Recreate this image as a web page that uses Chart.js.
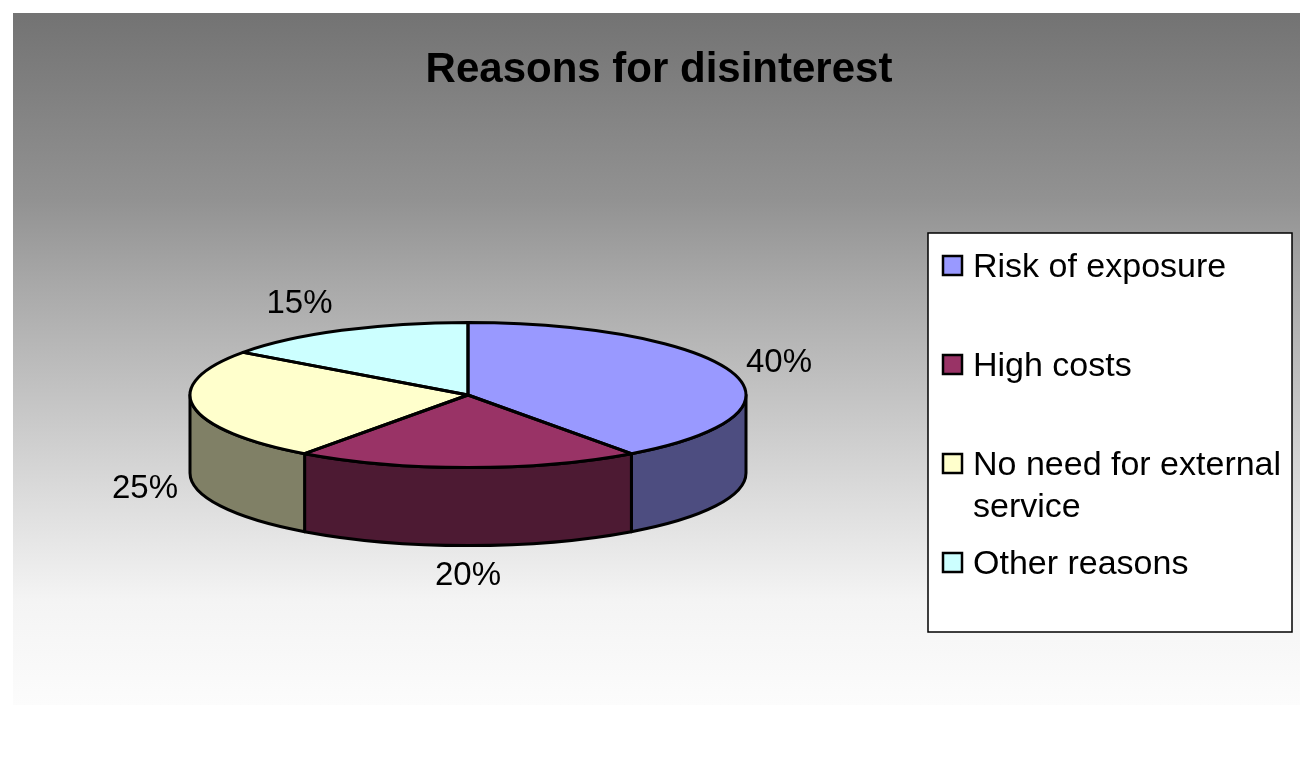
<!DOCTYPE html>
<html>
<head>
<meta charset="utf-8">
<script src="https://cdn.jsdelivr.net/npm/chart.js@4.4.0/dist/chart.umd.min.js"></script>
<style>
  html, body { margin: 0; padding: 0; background: #fff; }
</style>
</head>
<body>
<canvas id="pieChart" width="1315" height="760"></canvas>
<script>
// data
const reasons = ['Risk of exposure', 'High costs', 'No need for external service', 'Other reasons'];
const shares = [40, 20, 25, 15];
const topColors = ['#9999FF', '#993366', '#FFFFCC', '#CCFFFF'];
const sideColors = ['#4D4D80', '#4D1A33', '#808066', '#668080'];
const chartTitle = 'Reasons for disinterest';

// 3d look
const tilt = 0.261;   // vertical squash of the pie top
const depth = 78;     // wall height in px
const edge = 3;

// draws the panel, walls, squashes the top face, then outlines, labels, title, legend
const pie3d = {
    id: 'pie3d',
    beforeDraw(chart) {
        const ctx = chart.ctx;
        ctx.save();
        ctx.fillStyle = '#ffffff';
        ctx.fillRect(0, 0, chart.width, chart.height);
        const g = ctx.createLinearGradient(0, 13, 0, 705);
        g.addColorStop(0, '#737373');
        g.addColorStop(0.27, '#929292');
        g.addColorStop(0.39, '#a8a8a8');
        g.addColorStop(0.70, '#dcdcdc');
        g.addColorStop(0.85, '#f4f4f4');
        g.addColorStop(1, '#fcfcfc');
        ctx.fillStyle = g;
        ctx.fillRect(13, 13, 1287, 692);
        ctx.restore();
    },
    beforeDatasetsDraw(chart) {
        const ctx = chart.ctx;
        const arcs = chart.getDatasetMeta(0).data;
        ctx.save();
        ctx.lineWidth = edge;
        ctx.lineJoin = 'round';
        ctx.strokeStyle = '#000';
        arcs.forEach((arc, i) => {
            const rx = arc.outerRadius, ry = arc.outerRadius * tilt;
            // front half of the ellipse is angle 0..PI (and its 2PI shift)
            [0, 2 * Math.PI, -2 * Math.PI].forEach(shift => {
                const a0 = Math.max(arc.startAngle, shift);
                const a1 = Math.min(arc.endAngle, shift + Math.PI);
                if (a1 <= a0) return;
                ctx.beginPath();
                ctx.ellipse(arc.x, arc.y, rx, ry, 0, a0, a1, false);
                ctx.ellipse(arc.x, arc.y + depth, rx, ry, 0, a1, a0, true);
                ctx.closePath();
                ctx.fillStyle = sideColors[i];
                ctx.fill();
                ctx.stroke();
            });
        });
        ctx.restore();
        // squash the flat pie into an ellipse
        const cy = arcs[0].y;
        ctx.save();
        ctx.translate(0, cy);
        ctx.scale(1, tilt);
        ctx.translate(0, -cy);
    },
    afterDatasetsDraw(chart) {
        const ctx = chart.ctx;
        ctx.restore();
        const arcs = chart.getDatasetMeta(0).data;
        ctx.save();
        ctx.lineWidth = edge;
        ctx.lineJoin = 'round';
        ctx.strokeStyle = '#000';
        arcs.forEach(arc => {
            ctx.beginPath();
            ctx.moveTo(arc.x, arc.y);
            ctx.ellipse(arc.x, arc.y, arc.outerRadius, arc.outerRadius * tilt, 0, arc.startAngle, arc.endAngle, false);
            ctx.closePath();
            ctx.stroke();
        });

        // percentage labels
        ctx.font = '33px Arial, "Liberation Sans", sans-serif';
        ctx.fillStyle = '#000';
        ctx.textAlign = 'center';
        ctx.textBaseline = 'middle';
        const total = shares.reduce((a, b) => a + b, 0);
        arcs.forEach((arc, i) => {
            const mid = (arc.startAngle + arc.endAngle) / 2;
            const c = Math.cos(mid), s = Math.sin(mid);
            const txt = Math.round(shares[i] / total * 100) + '%';
            const halfW = ctx.measureText(txt).width / 2;
            const ax = arc.x + arc.outerRadius * c;
            const ay = arc.y + arc.outerRadius * tilt * s + (s > 0 ? depth : 0);
            // labels above the pie sit a bit further out
            const push = s < -0.5 ? 1.9 : 1;
            ctx.fillText(txt, ax + c * (halfW + 16) * push, ay + s * 30);
        });

        // title
        ctx.font = 'bold 42px Arial, "Liberation Sans", sans-serif';
        ctx.textBaseline = 'alphabetic';
        ctx.fillText(chartTitle, 659, 82);
        ctx.restore();
    },
    afterDraw(chart) {
        const ctx = chart.ctx;
        const box = { left: 928, top: 233, right: 1292, bottom: 632 };
        ctx.save();
        ctx.fillStyle = '#fff';
        ctx.fillRect(box.left, box.top, box.right - box.left, box.bottom - box.top);
        ctx.strokeStyle = '#000';
        ctx.lineWidth = 1.5;
        ctx.strokeRect(box.left, box.top, box.right - box.left, box.bottom - box.top);

        ctx.font = '34px Arial, "Liberation Sans", sans-serif';
        ctx.textAlign = 'left';
        ctx.textBaseline = 'alphabetic';
        const textX = box.left + 45;
        const maxW = box.right - textX - 4;
        reasons.forEach((name, i) => {
            const top = box.top + 23 + i * 99;
            ctx.fillStyle = topColors[i];
            ctx.fillRect(box.left + 15, top, 19, 19);
            ctx.strokeStyle = '#000';
            ctx.lineWidth = 2.5;
            ctx.strokeRect(box.left + 15, top, 19, 19);
            // wrap long labels
            const words = name.split(' ');
            const lines = [];
            let line = '';
            words.forEach(w => {
                const test = line ? line + ' ' + w : w;
                if (ctx.measureText(test).width > maxW && line) {
                    lines.push(line);
                    line = w;
                } else {
                    line = test;
                }
            });
            lines.push(line);
            ctx.fillStyle = '#000';
            lines.forEach((l, j) => ctx.fillText(l, textX, top + 21 + j * 42));
        });
        ctx.restore();
    }
};

new Chart(document.getElementById('pieChart'), {
    type: 'pie',
    data: {
        labels: reasons,
        datasets: [
            {
                data: shares,
                backgroundColor: topColors,
                borderWidth: 0,
            }
        ]
    },
    options: {
        responsive: false,
        animation: false,
        layout: {
            padding: { left: 0, right: 379, top: 117, bottom: 87 }
        },
        plugins: {
            legend: { display: false },
            title: { display: false },
            tooltip: { enabled: false }
        }
    },
    plugins: [pie3d]
});
</script>
</body>
</html>
